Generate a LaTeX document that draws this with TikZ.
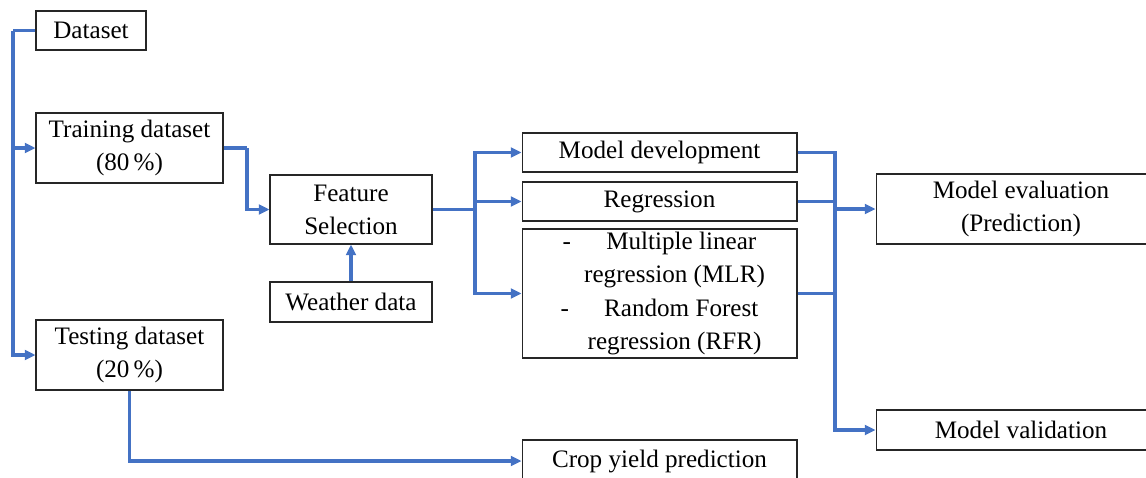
\documentclass[tikz,border=0pt]{standalone}
\usepackage{fontspec}
\setmainfont{Liberation Serif}
\usetikzlibrary{arrows.meta,positioning}
\definecolor{flowblue}{HTML}{4472C4}
\begin{document}
\begin{tikzpicture}[x=0.02cm,y=-0.02cm,
  every node/.style={font=\rmfamily\fontsize{14.3}{18.8}\selectfont},
  stage/.style={draw=black!85,line width=.6pt,fill=white,align=center,inner sep=0pt},
  wire/.style={flowblue,line width=1.8pt},
  flow/.style={wire,-{Triangle[length=6pt,width=5.5pt]}}]
\useasboundingbox (0,0) rectangle (1146,477);
\clip (0,0) rectangle (1146,477);
% boxes
\node[stage,minimum width=2.2cm,minimum height=0.78cm] (data) at (91,30.5) {Dataset};
\node[stage,minimum width=3.74cm,minimum height=1.4cm] (train) at (129.5,148) {Training dataset\\(80\,\%)};
\node[stage,minimum width=3.74cm,minimum height=1.4cm] (test) at (129.5,355) {Testing dataset\\(20\,\%)};
\node[stage,minimum width=3.24cm,minimum height=1.38cm] (feat) at (351,209.5) {Feature\\Selection};
\node[stage,minimum width=3.24cm,minimum height=0.8cm] (weather) at (351,302) {Weather data};
\node[stage,minimum width=5.5cm,minimum height=0.78cm] (dev) at (659.5,152.5) {Model development};
\node[stage,minimum width=5.5cm,minimum height=0.78cm] (regr) at (659.5,201.5) {Regression};
\node[stage,minimum width=5.5cm,minimum height=2.58cm] (mlr) at (659.5,293.5)
  {-\hspace{1.4em}Multiple linear\\\hspace{1.2em}regression (MLR)\\-\hspace{1.4em}Random Forest\\\hspace{1.2em}regression (RFR)};
\node[stage,minimum width=5.5cm,minimum height=0.84cm] (crop) at (659.5,461) {Crop yield prediction};
\node[stage,minimum width=5.8cm,minimum height=1.4cm] (eval) at (1021,209) {Model evaluation\\(Prediction)};
\node[stage,minimum width=5.8cm,minimum height=0.8cm] (valid) at (1021,430) {Model validation};
% junctions
\coordinate (ltrunk) at (13,30.5);
\coordinate (tjog) at (247,148);
\coordinate (fork) at (475,209.5);
\coordinate (join) at (835,209);
% connectors
\draw[wire] (data.west) -- (ltrunk);
\draw[flow] (ltrunk) |- (train.west);
\draw[flow] (ltrunk) |- (test.west);
\draw[wire] (train.east) -- (tjog);
\draw[flow] (tjog) |- (feat.west);
\draw[flow] (weather.north) -- (feat.south);
\draw[wire] (feat.east) -- (fork);
\draw[flow] (fork) |- (dev.west);
\draw[flow] (fork) |- (regr.west);
\draw[flow] (fork) |- (mlr.west);
\draw[wire] (dev.east) -| (join);
\draw[wire] (regr.east) -| (join);
\draw[wire] (mlr.east) -| (join);
\draw[flow] (join) -- (eval.west);
\draw[flow] (join) |- (valid.west);
\draw[flow] (test.south) |- (crop.west);
\end{tikzpicture}
\end{document}
